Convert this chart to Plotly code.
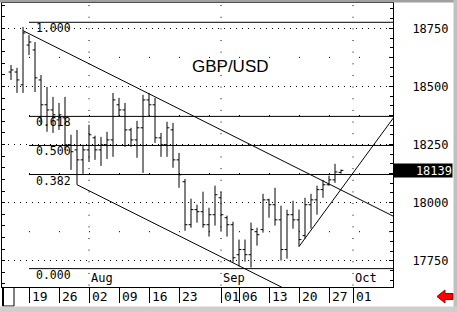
import pandas as pd
import plotly.graph_objects as go

# ---- daily GBP/USD bars (price x 10^4) ----
DATES = [
    "2004-07-14", "2004-07-15", "2004-07-16",
    "2004-07-19", "2004-07-20", "2004-07-21", "2004-07-22", "2004-07-23",
    "2004-07-26", "2004-07-27", "2004-07-28", "2004-07-29", "2004-07-30",
    "2004-08-02", "2004-08-03", "2004-08-04", "2004-08-05", "2004-08-06",
    "2004-08-09", "2004-08-10", "2004-08-11", "2004-08-12", "2004-08-13",
    "2004-08-16", "2004-08-17", "2004-08-18", "2004-08-19", "2004-08-20",
    "2004-08-23", "2004-08-24", "2004-08-25", "2004-08-26", "2004-08-27",
    "2004-08-30", "2004-08-31", "2004-09-01", "2004-09-02", "2004-09-03",
    "2004-09-06", "2004-09-07", "2004-09-08", "2004-09-09", "2004-09-10",
    "2004-09-13", "2004-09-14", "2004-09-15", "2004-09-16", "2004-09-17",
    "2004-09-20", "2004-09-21", "2004-09-22", "2004-09-23", "2004-09-24",
    "2004-09-27", "2004-09-28", "2004-09-29",
]
OPEN = [18562, 18562, 18507,
        18678, 18657, 18528, 18421, 18399,
        18356, 18365, 18249, 18227, 18184,
        18227, 18279, 18227, 18249, 18270,
        18421, 18399, 18313, 18270, 18322,
        18442, 18421, 18279, 18249, 18313,
        18184, 18090, 17905, 17970, 17961,
        17905, 17948, 18021, 17935, 17905,
        17776, 17798, 17776, 17875, 17884,
        18012, 17991, 17926, 17798, 17948,
        17926, 17858, 17991, 18012, 18056,
        18077, 18098, 18130]
HIGH = [18592, 18580, 18756,
        18721, 18691, 18549, 18498, 18455,
        18429, 18455, 18292, 18313, 18249,
        18335, 18288, 18283, 18305, 18472,
        18451, 18429, 18322, 18352, 18464,
        18472, 18451, 18300, 18348, 18343,
        18214, 18102, 18017, 17991, 18047,
        17978, 18073, 18047, 17944, 17918,
        17841, 17841, 17914, 17892, 18038,
        18017, 18064, 17987, 17970, 18008,
        17970, 18021, 18038, 18073, 18098,
        18116, 18167, 18142]
LOW = [18528, 18472, 18472,
       18635, 18476, 18335, 18305, 18300,
       18313, 18227, 18141, 18077, 18124,
       18175, 18184, 18158, 18188, 18197,
       18373, 18240, 18240, 18193, 18128,
       18373, 18257, 18197, 18197, 18150,
       18064, 17879, 17892, 17914, 17892,
       17854, 17901, 17875, 17854, 17742,
       17725, 17746, 17721, 17815, 17871,
       17935, 17901, 17751, 17759, 17888,
       17811, 17845, 17888, 17948, 18021,
       18073, 18085, 18125]
CLOSE = [18571, 18528, 18730,
         18691, 18537, 18421, 18399, 18378,
         18378, 18249, 18219, 18184, 18227,
         18292, 18227, 18249, 18270, 18442,
         18399, 18313, 18270, 18322, 18442,
         18421, 18279, 18249, 18322, 18184,
         18120, 17905, 17970, 17961, 17905,
         17948, 18034, 17948, 17905, 17763,
         17798, 17776, 17884, 17862, 18012,
         17991, 17926, 17798, 17948, 17926,
         17841, 17991, 18012, 18056, 18077,
         18098, 18132, 18139]

LAST_PRICE = 18139

# Fibonacci retracement of the Jul high / Sep low swing
FIB_LOW, FIB_HIGH = 17716, 18776
FIB_RATIOS = [0.0, 0.382, 0.5, 0.618, 1.0]
FIB_LABELS = ["0.000", "0.382", "0.500", "0.618", "1.000"]
FIB_START = "2004-07-19"

# trend lines: (dates, prices)
TREND_LINES = [
    (["2004-07-16", "2004-10-12"], [18740, 17938]),   # falling resistance
    (["2004-07-29", "2004-09-20"], [18077, 17599]),   # lower channel
    (["2004-09-20", "2004-10-12"], [17811, 18374]),   # rising support
]

WEEK_TICKS = ["2004-07-19", "2004-07-26", "2004-08-02", "2004-08-09",
              "2004-08-16", "2004-08-23", "2004-09-01", "2004-09-06",
              "2004-09-13", "2004-09-20", "2004-09-27", "2004-10-01"]
WEEK_LABELS = ["19", "26", "02", "09", "16", "23", "01", "06",
               "13", "20", "27", "01"]
MONTHS = ["2004-08-02", "2004-09-01", "2004-10-01"]
MONTH_LABELS = ["Aug", "Sep", "Oct"]
PRICE_TICKS = [17750, 18000, 18250, 18500, 18750]
HALF_LEVELS = [17875, 18125, 18375, 18625]
Y_RANGE = [17637, 18859]
X_START, X_END = "2004-07-13 00:00", "2004-10-12 04:00"
LINE_END = "2004-10-12"

MONO = "DejaVu Sans Mono"


def mid(d):
    """Place each session's bar at mid-day."""
    return pd.Timestamp(d) + pd.Timedelta(hours=12)


# pixel helpers for the frame decorations (plot box is x 2..393, y 3..287)
def xp(px):
    return (px - 2) / 391.0


def yp(py):
    return (287 - py) / 284.0


fig = go.Figure()

fig.add_trace(go.Ohlc(
    x=[mid(d) for d in DATES], open=OPEN, high=HIGH, low=LOW, close=CLOSE,
    increasing=dict(line=dict(color="black", width=1)),
    decreasing=dict(line=dict(color="black", width=1)),
    tickwidth=0.4, hoverinfo="skip", showlegend=False, yaxis="y",
))

for r in FIB_RATIOS:
    lvl = FIB_LOW + r * (FIB_HIGH - FIB_LOW)
    fig.add_trace(go.Scatter(
        x=[mid(FIB_START), mid(LINE_END)], y=[lvl, lvl], mode="lines",
        line=dict(color="black", width=1), hoverinfo="skip",
        showlegend=False, yaxis="y2",
    ))

for dates, prices in TREND_LINES:
    fig.add_trace(go.Scatter(
        x=[mid(d) for d in dates], y=prices, mode="lines",
        line=dict(color="black", width=1), hoverinfo="skip",
        showlegend=False, yaxis="y2",
    ))

# fib labels
for r, lab in zip(FIB_RATIOS, FIB_LABELS):
    lvl = FIB_LOW + r * (FIB_HIGH - FIB_LOW)
    fig.add_annotation(
        x=mid(FIB_START), y=lvl, xref="x", yref="y2", text=lab,
        xanchor="left", yanchor="middle", xshift=5, yshift=-6,
        showarrow=False, font=dict(family=MONO, size=11.5, color="black"),
    )

# title
fig.add_annotation(
    x=xp(230), y=yp(55), xref="paper", yref="paper", text="GBP/USD",
    showarrow=False, font=dict(family="Liberation Sans", size=17, color="black"),
)

# week labels under the axis
for d, lab in zip(WEEK_TICKS, WEEK_LABELS):
    fig.add_annotation(
        x=mid(d), y=yp(296.7), xref="x", yref="paper", text=lab,
        xanchor="left", yanchor="middle", xshift=1, showarrow=False,
        font=dict(family=MONO, size=13, color="black"),
    )

# month names inside the plot
for m, lab in zip(MONTHS, MONTH_LABELS):
    fig.add_annotation(
        x=mid(m), y=0, xref="x", yref="paper", text=lab,
        xanchor="left", yanchor="bottom", xshift=0, showarrow=False,
        font=dict(family=MONO, size=12, color="black"),
    )

# last price box on the right scale
fig.add_annotation(
    x=1, y=LAST_PRICE, xref="paper", yref="y2", text=str(LAST_PRICE),
    xanchor="left", yanchor="middle", showarrow=False, bgcolor="black",
    width=58, height=13, align="right", borderpad=0,
    font=dict(family=MONO, size=12, color="white"),
)

shapes = []
# dotted month separators
for m in MONTHS:
    shapes.append(dict(type="line", xref="x", yref="y2", x0=mid(m), x1=mid(m),
                       y0=18850, y1=17600, layer="below",
                       line=dict(color="black", width=1, dash="1px,10.645px")))
# sparse weekly dots on the half levels
for lvl in HALF_LEVELS:
    shapes.append(dict(type="line", xref="x", yref="y2", x0=mid(WEEK_TICKS[0]),
                       x1=mid(LINE_END), y0=lvl, y1=lvl, layer="below",
                       line=dict(color="black", width=1, dash="1px,29px")))
# small box at the lower left corner
shapes.append(dict(type="rect", xref="paper", yref="paper",
                   x0=xp(2.5), x1=xp(14), y0=yp(306), y1=yp(287.5),
                   line=dict(color="black", width=1)))
shapes.append(dict(type="line", xref="paper", yref="paper",
                   x0=xp(3.5), x1=xp(3.5), y0=yp(306), y1=yp(287.5),
                   line=dict(color="black", width=1)))
# window frame
shapes.append(dict(type="rect", xref="paper", yref="paper",
                   x0=xp(0), x1=xp(457), y0=yp(2.5), y1=yp(0),
                   fillcolor="#a0a0a0", line=dict(width=0)))
shapes.append(dict(type="rect", xref="paper", yref="paper",
                   x0=xp(453.5), x1=xp(457), y0=yp(312), y1=yp(0),
                   fillcolor="#c0c0c0", line=dict(width=0)))
shapes.append(dict(type="rect", xref="paper", yref="paper",
                   x0=xp(0), x1=xp(457), y0=yp(312), y1=yp(306.5),
                   fillcolor="#cfcfcf", line=dict(width=0)))
# red scroll arrow
pts = [(437, 296.5), (445, 290), (445, 293.5), (453, 293.5),
       (453, 299.5), (445, 299.5), (445, 303)]
path = "M " + " L ".join(f"{xp(a):.5f},{yp(b):.5f}" for a, b in pts) + " Z"
shapes.append(dict(type="path", xref="paper", yref="paper", path=path,
                   fillcolor="#ff0000", line=dict(color="#a00000", width=1)))

fig.update_layout(
    width=457, height=312,
    margin=dict(l=2, r=64, t=3, b=25),
    paper_bgcolor="white", plot_bgcolor="white",
    showlegend=False,
    shapes=shapes,
    xaxis=dict(
        type="date", range=[X_START, X_END],
        rangebreaks=[dict(bounds=["sat", "mon"])],
        rangeslider=dict(visible=False),
        tickmode="array", tickvals=[mid(d) for d in WEEK_TICKS],
        ticks="outside", ticklen=15, tickwidth=1, tickcolor="black",
        showticklabels=False, showline=True, linecolor="black", linewidth=1,
        mirror=True, showgrid=False, zeroline=False, automargin=False,
    ),
    yaxis=dict(
        range=Y_RANGE, side="left", showline=True, linecolor="black",
        linewidth=1, ticks="inside", ticklen=3, tickcolor="black",
        tickmode="linear", tick0=0, dtick=50, showticklabels=False,
        showgrid=False, zeroline=False, automargin=False,
    ),
    yaxis2=dict(
        range=Y_RANGE, overlaying="y", side="right", showline=True,
        linecolor="black", linewidth=1, ticks="inside", ticklen=4,
        tickcolor="black", tickmode="linear", tick0=PRICE_TICKS[0], dtick=250,
        tickformat="d", ticklabelstandoff=16,
        tickfont=dict(family=MONO, size=12, color="black"),
        showgrid=True, gridcolor="black", gridwidth=1, griddash="1px,5px",
        zeroline=False, automargin=False,
        minor=dict(ticks="inside", ticklen=3, tickcolor="black",
                   tick0=PRICE_TICKS[0], dtick=250 / 6, showgrid=False),
    ),
)

fig.write_html("out.html")
